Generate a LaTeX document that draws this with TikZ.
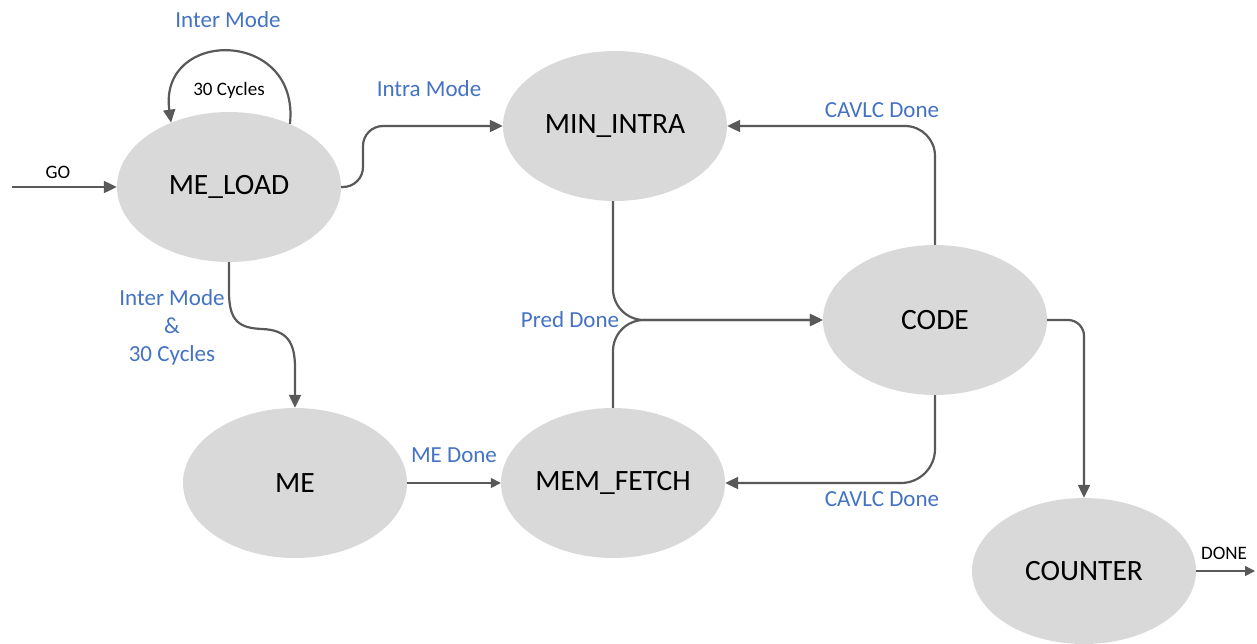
\documentclass[tikz,border=0pt]{standalone}
\usepackage{fontspec}
\setmainfont{Carlito}
\usetikzlibrary{shapes.geometric,arrows.meta}
\definecolor{statefill}{HTML}{D9D9D9}
\definecolor{wire}{HTML}{595959}
\definecolor{lblblue}{HTML}{4472C4}
\begin{document}
\begin{tikzpicture}[x=1pt,y=-1pt,
  stnode/.style={ellipse, fill=statefill, inner sep=0pt,
    minimum width=224pt, minimum height=150pt,
    font=\fontsize{29.5}{32}\selectfont},
  flow/.style={draw=wire, line width=2.2pt, -{Triangle[length=13pt,width=12pt]}},
  lightflow/.style={draw=wire, line width=1.4pt, -{Triangle[length=10pt,width=10pt]}},
  cond/.style={text=lblblue, font=\fontsize{23}{28}\selectfont, align=center},
  tag/.style={font=\fontsize{19}{22}\selectfont}]
\useasboundingbox (0,0) rectangle (1257,643);

% states
\node[stnode] (load)    at (229,187) {ME\_LOAD};
\node[stnode] (intra)   at (615,126) {MIN\_INTRA};
\node[stnode] (code)    at (935,320) {CODE};
\node[stnode] (me)      at (295,483) {ME};
\node[stnode] (fetch)   at (613,483) {MEM\_FETCH};
\node[stnode, minimum height=146pt] (counter) at (1084,571) {COUNTER};

% free ends
\coordinate (start) at (12,187);
\coordinate (finish) at (1255,571);
\coordinate (join) at (613,320);

% transitions
\draw[flow] (start) -- (load.west);
\node[tag] (golbl) at (58,172) {GO};

\draw[flow] (load.46) .. controls (300,28) and (158,28) .. (load.132);
\node[tag] (cyc) at (229,90) {30 Cycles};
\node[cond] (inter) at (228,20) {Inter Mode};

\draw[flow, rounded corners=20pt] (load.east) -- (363,187) -- (363,126) -- (intra.west);
\node[cond] (intralbl) at (429,89) {Intra Mode};

\draw[flow] (load.south) -- (229,292)
  .. controls (229,322) and (240,328) .. (262,329)
  .. controls (287,330) and (295,342) .. (295,368) -- (me.north);
\node[cond] (interlbl) at (172,327) {Inter Mode\\\&\\30 Cycles};

\draw[lightflow] (me.east) -- (fetch.west);
\node[cond] (medone) at (454,455) {ME Done};

\draw[flow, rounded corners=31pt] (intra.south -| fetch.north) -- (join) -- (code.west);
\draw[flow, rounded corners=31pt] (fetch.north) -- (join) -- (code.west);
\node[cond] (pred) at (570,320) {Pred Done};

\draw[flow, rounded corners=30pt] (code.north) -- (code.north |- intra.east) -- (intra.east);
\node[cond] (cavup) at (882,110) {CAVLC Done};

\draw[flow, rounded corners=34pt] (code.south) -- (code.south |- fetch.east) -- (fetch.east);
\node[cond] (cavdn) at (882,499) {CAVLC Done};

\draw[flow, rounded corners=16pt] (code.east) -- (code.east -| counter.north) -- (counter.north);

\draw[lightflow] (counter.east) -- (finish);
\node[tag] (donelbl) at (1224,553) {DONE};
\end{tikzpicture}
\end{document}
